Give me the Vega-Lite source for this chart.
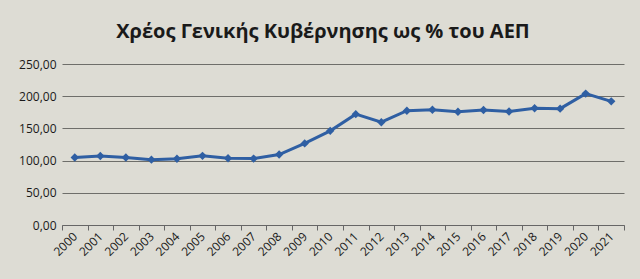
{
  "$schema": "https://vega.github.io/schema/vega-lite/v6.json",
  "autosize": {"type": "none"},
  "width": 562,
  "height": 161,
  "padding": {"left": 62, "top": 64, "right": 16, "bottom": 54},
  "background": "#dddcd4",
  "title": {
    "text": "Χρέος Γενικής Κυβέρνησης ως % του ΑΕΠ",
    "font": "Open Sans",
    "fontSize": 20,
    "fontWeight": "bold",
    "color": "#1a1a1a",
    "anchor": "middle",
    "dx": -20,
    "offset": 16
  },
  "config": {
    "view": {"stroke": null},
    "axis": {"labelFont": "Open Sans", "labelColor": "#1a1a1a"}
  },
  "data": {
    "values": [
      {"year": "2000", "debt": 104.9},
      {"year": "2001", "debt": 107.1},
      {"year": "2002", "debt": 104.9},
      {"year": "2003", "debt": 101.5},
      {"year": "2004", "debt": 102.9},
      {"year": "2005", "debt": 107.4},
      {"year": "2006", "debt": 103.6},
      {"year": "2007", "debt": 103.1},
      {"year": "2008", "debt": 109.4},
      {"year": "2009", "debt": 126.7},
      {"year": "2010", "debt": 146.2},
      {"year": "2011", "debt": 172.1},
      {"year": "2012", "debt": 159.6},
      {"year": "2013", "debt": 177.4},
      {"year": "2014", "debt": 178.9},
      {"year": "2015", "debt": 175.9},
      {"year": "2016", "debt": 178.5},
      {"year": "2017", "debt": 176.2},
      {"year": "2018", "debt": 181.2},
      {"year": "2019", "debt": 180.7},
      {"year": "2020", "debt": 204.0},
      {"year": "2021", "debt": 192.0}
    ]
  },
  "encoding": {
    "x": {
      "field": "year",
      "type": "ordinal",
      "scale": {"paddingInner": 0, "paddingOuter": 0},
      "axis": {
        "title": null,
        "labelAngle": -45,
        "labelAlign": "right",
        "labelBaseline": "middle",
        "labelFontSize": 12,
        "labelPadding": 4,
        "tickBand": "extent",
        "tickSize": 5,
        "tickColor": "#666",
        "domainColor": "#666",
        "domainWidth": 1.2,
        "grid": false
      }
    },
    "y": {
      "field": "debt",
      "type": "quantitative",
      "scale": {"domain": [0, 250], "nice": false},
      "axis": {
        "title": null,
        "values": [0, 50, 100, 150, 200, 250],
        "labelExpr": "replace(format(datum.value, '.2f'), '.', ',')",
        "labelFontSize": 12,
        "labelPadding": 6,
        "domain": false,
        "ticks": false,
        "grid": true,
        "gridColor": "#6e6e6a",
        "gridWidth": 1.2
      }
    }
  },
  "layer": [
    {"mark": {"type": "line", "color": "#2f5fa3", "strokeWidth": 3}},
    {"mark": {"type": "point", "shape": "diamond", "filled": true, "opacity": 1, "color": "#2f5fa3", "size": 70}}
  ]
}
